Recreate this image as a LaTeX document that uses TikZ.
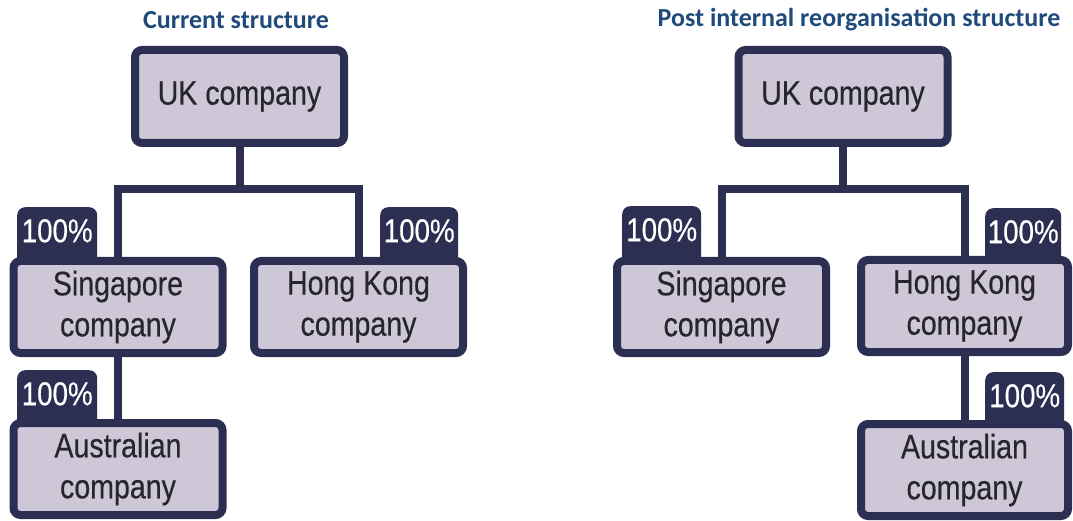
\documentclass[tikz,border=0pt]{standalone}
\usepackage{fontspec}
\usetikzlibrary{backgrounds}
\newfontfamily\boxfont[FakeStretch=0.84,FakeBold=0.4]{Liberation Sans}
\newfontfamily\titlefont{Carlito}
\definecolor{navy}{RGB}{44,46,82}
\definecolor{boxfill}{RGB}{205,199,215}
\definecolor{boxtext}{RGB}{38,38,44}
\definecolor{titleblue}{RGB}{31,74,124}
\tikzset{
  cobox/.style={draw=navy, line width=8pt, rounded corners=7pt, fill=boxfill,
    minimum width=209pt, minimum height=92pt, inner sep=0pt, align=center,
    text=boxtext, font={\boxfont\fontsize{34}{41}\selectfont}},
  tab/.style={fill=navy, rounded corners=8pt, anchor=north west, inner sep=0pt,
    minimum width=80pt, text height=35pt, text depth=27pt, text=white,
    font={\boxfont\fontsize{33}{40}\selectfont}},
  conn/.style={draw=navy, line width=8pt},
  ttl/.style={text=titleblue, font={\titlefont\bfseries\fontsize{26}{30}\selectfont}, inner sep=0pt}
}
\begin{document}
\begin{tikzpicture}[x=1pt,y=-1pt]
\useasboundingbox (0,0) rectangle (1073,521);
% titles
\node[ttl] (t1) at (236,20) {Current structure};
\node[ttl] (t2) at (859,20) {Post internal reorganisation structure};
% coordinates for bars
\coordinate (barL) at (239.5,189);
\coordinate (barR) at (843,189);
% ---- left diagram
\node[cobox, minimum height=93pt] (ukL) at (239.5,96.5) {UK company};
\node[cobox] (sgL) at (118,307) {Singapore\\company};
\node[cobox] (hkL) at (358.5,307) {Hong Kong\\company};
\node[cobox] (auL) at (118,469) {Australian\\company};
% ---- right diagram
\node[cobox, minimum height=93pt] (ukR) at (843,96.5) {UK company};
\node[cobox] (sgR) at (721.5,307) {Singapore\\company};
\node[cobox, minimum width=207pt] (hkR) at (964.5,306) {Hong Kong\\company};
\node[cobox, minimum width=207pt] (auR) at (964.5,470) {Australian\\company};
% connectors and tabs behind boxes
\begin{scope}[on background layer]
  \node[tab] (tsL) at (17,207) {100\%};
  \node[tab, minimum width=78pt] (thL) at (380,207) {100\%};
  \node[tab] (taL) at (17,370) {100\%};
  \node[tab, minimum width=79pt] (tsR) at (622,206) {100\%};
  \node[tab, minimum width=76pt] (thR) at (985,208) {100\%};
  \node[tab, minimum width=79pt] (taR) at (985,372) {100\%};
  \draw[conn] (ukL.south) -- (barL);
  \draw[conn] (sgL.north) |- (barL) -| (hkL.north);
  \draw[conn] (sgL.south) -- (auL.north);
  \draw[conn] (ukR.south) -- (barR);
  \draw[conn] (sgR.north) |- (barR) -| (hkR.north);
  \draw[conn] (hkR.south) -- (auR.north);
\end{scope}
\end{tikzpicture}
\end{document}
